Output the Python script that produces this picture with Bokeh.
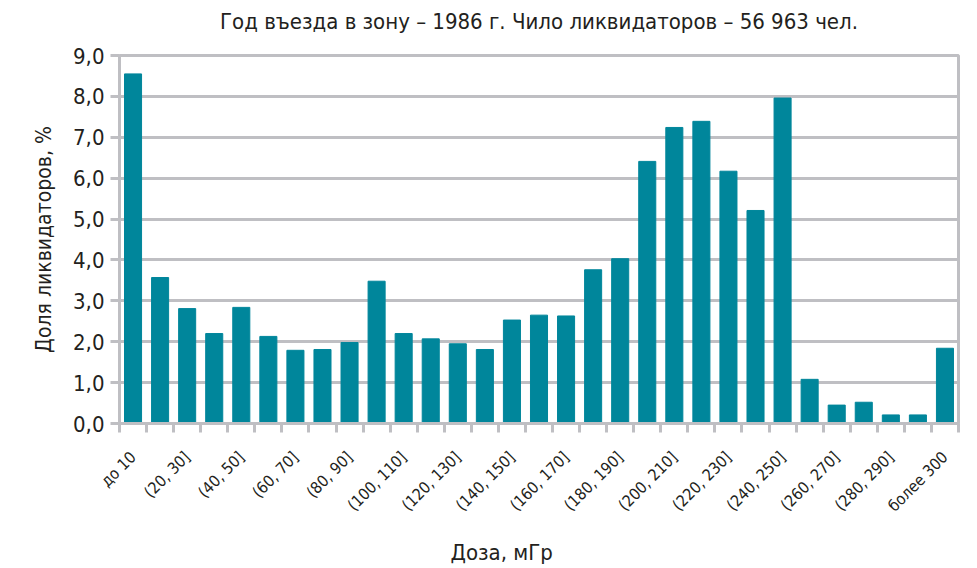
from bokeh.plotting import figure
from bokeh.models import FixedTicker, Title, LinearAxis, ColumnDataSource
from bokeh.embed import file_html
from bokeh.resources import INLINE

categories = ["до 10", "(10, 20]", "(20, 30]", "(30, 40]", "(40, 50]", "(50, 60]",
              "(60, 70]", "(70, 80]", "(80, 90]", "(90, 100]", "(100, 110]", "(110, 120]",
              "(120, 130]", "(130, 140]", "(140, 150]", "(150, 160]", "(160, 170]",
              "(170, 180]", "(180, 190]", "(190, 200]", "(200, 210]", "(210, 220]",
              "(220, 230]", "(230, 240]", "(240, 250]", "(250, 260]", "(260, 270]",
              "(270, 280]", "(280, 290]", "(290, 300]", "более 300"]
shares = [8.55, 3.57, 2.81, 2.20, 2.84, 2.13, 1.79, 1.81, 1.98, 3.48, 2.20, 2.07,
          1.95, 1.81, 2.53, 2.65, 2.63, 3.76, 4.03, 6.41, 7.24, 7.39, 6.17, 5.21,
          7.96, 1.08, 0.45, 0.52, 0.21, 0.21, 1.84]
y_ticks = [0, 1, 2, 3, 4, 5, 6, 7, 8, 9]
y_tick_labels = ["0,0", "1,0", "2,0", "3,0", "4,0", "5,0", "6,0", "7,0", "8,0", "9,0"]

title_text = "Год въезда в зону – 1986 г. Чило ликвидаторов – 56 963 чел."
x_title = "Доза, мГр"
y_title = "Доля ликвидаторов, %"

FONT = "DejaVu Sans Condensed"
TEXT = "#231f20"
GRID = "#bfbfc3"
BAR = "#00869b"

idx = list(range(len(categories)))
src = ColumnDataSource(dict(x=idx, top=shares))

p = figure(width=970, height=566, output_backend="svg", toolbar_location=None,
           x_range=(-0.5, len(categories) - 0.5), y_range=(0, 9),
           min_border_left=119, min_border_right=12, min_border_top=55,
           min_border_bottom=143)

p.vbar(x="x", top="top", width=0.63, source=src, color=BAR)

xa = p.below[0]
ya = p.left[0]

# title carried by a bare axis above the frame
top_axis = LinearAxis(ticker=FixedTicker(ticks=[]), axis_line_color=None,
                      major_tick_line_color=None, minor_tick_line_color=None,
                      major_label_text_font_size="0px",
                      axis_label=title_text, axis_label_text_font=FONT,
                      axis_label_text_font_size="22px", axis_label_text_font_style="normal",
                      axis_label_text_color=TEXT, axis_label_standoff=22)
p.add_layout(top_axis, "above")

# y axis
ya.ticker = FixedTicker(ticks=y_ticks)
ya.major_label_overrides = {t: l for t, l in zip(y_ticks, y_tick_labels)}
ya.major_label_text_font = FONT
ya.major_label_text_font_size = "22px"
ya.major_label_text_color = TEXT
ya.major_tick_out = 9
ya.major_tick_in = 0
ya.minor_tick_line_color = None
ya.major_tick_line_color = GRID
ya.major_tick_line_width = 3
ya.axis_line_color = GRID
ya.axis_line_width = 3
ya.axis_label = y_title
ya.axis_label_text_font = FONT
ya.axis_label_text_font_size = "21px"
ya.axis_label_text_font_style = "normal"
ya.axis_label_text_color = TEXT
ya.axis_label_standoff = 14
ya.major_label_standoff = 6

# x axis
shown = idx[::2]
xa.ticker = FixedTicker(ticks=shown, minor_ticks=[i - 0.5 for i in range(len(categories) + 1)])
xa.major_label_overrides = {i: categories[i] for i in shown}
xa.major_label_orientation = 0.785398
xa.major_label_text_font = FONT
xa.major_label_text_font_size = "16px"
xa.major_label_text_color = TEXT
xa.major_tick_line_color = None
xa.minor_tick_line_color = GRID
xa.minor_tick_line_width = 3
xa.minor_tick_out = 9
xa.minor_tick_in = 0
xa.axis_line_color = GRID
xa.axis_line_width = 3
xa.major_label_standoff = 22
# invisible spacer label to push the axis title lower
xa.axis_label = " "
xa.axis_label_text_font_size = "1px"
xa.axis_label_standoff = 8

p.xgrid.grid_line_color = None
p.ygrid.grid_line_color = GRID
p.ygrid.grid_line_width = 3
p.outline_line_color = GRID
p.outline_line_width = 3

p.add_layout(Title(text=x_title, align="left", offset=331, text_font=FONT,
                   text_font_size="22px", text_font_style="normal", text_color=TEXT,
                   standoff=0), "below")

open("out.html", "w").write(file_html(p, INLINE))
